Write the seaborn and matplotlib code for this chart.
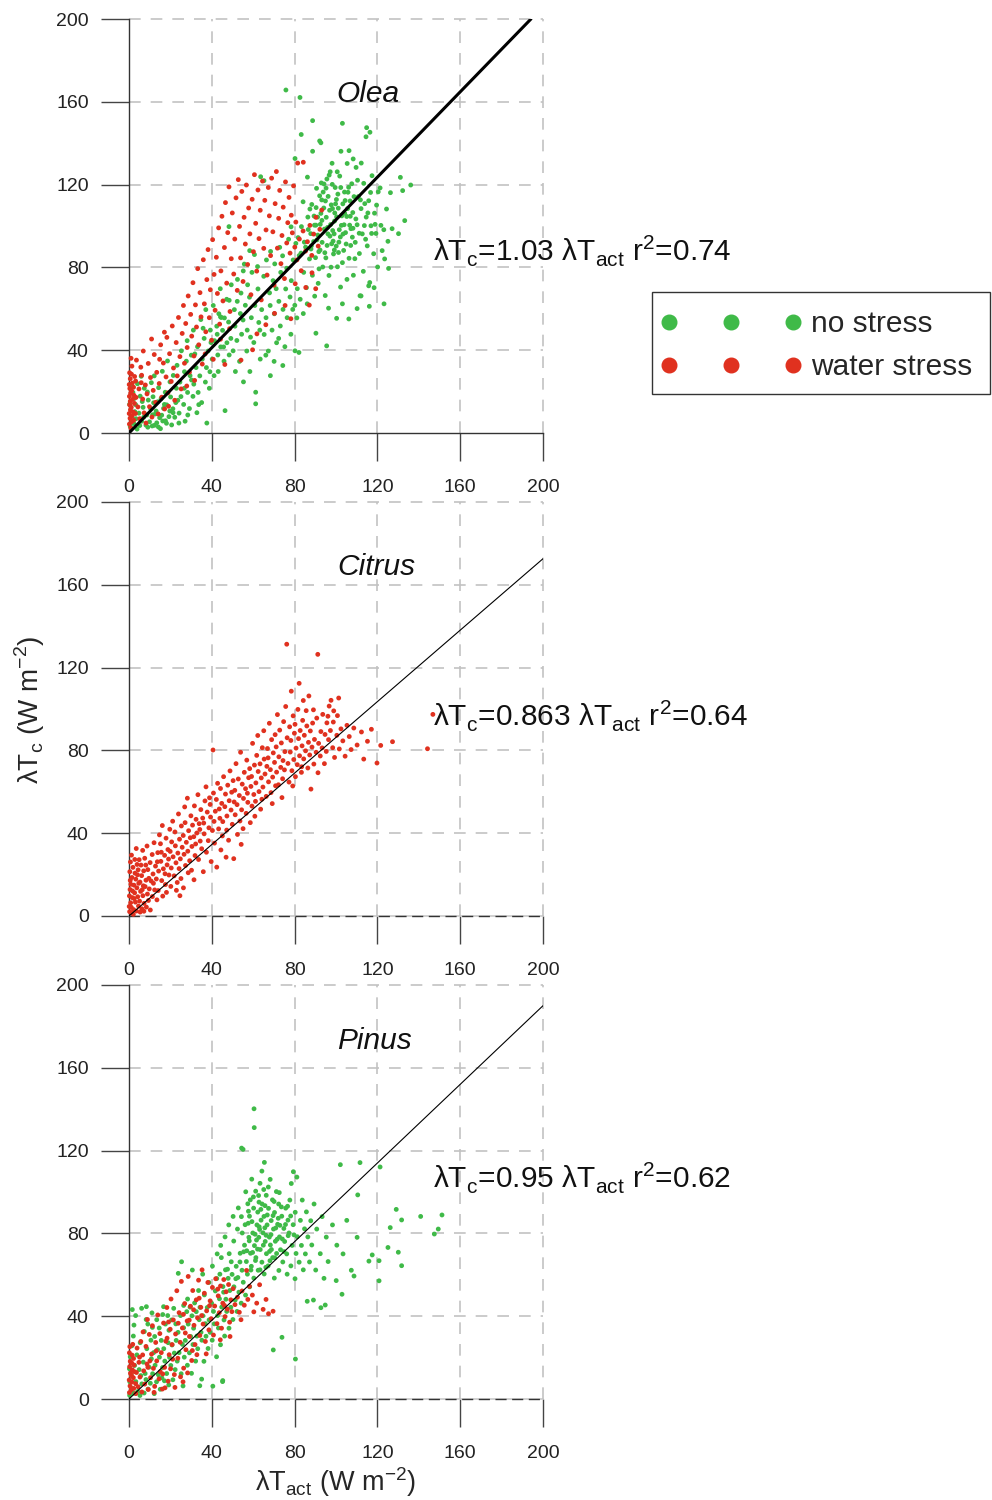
import pandas as pd
import seaborn as sns
import matplotlib.pyplot as plt
from matplotlib.lines import Line2D
from matplotlib.patches import Rectangle

# Points: (lambda*T_act, lambda*T_c) in W m-2

olea_no_stress = [
    (0.6, 3.2), (1.4, 8.1), (2.3, 4.6), (3.2, 13.7), (3.9, 1.9), (4.8, 9.6), (5.4, 17.8), (6.1, 5.7),
    (6.8, 12.4), (7.4, 21.6), (8.2, 3.8), (8.6, 8.7), (9.3, 15.9), (9.9, 5.4), (10.4, 11.8), (10.8, 24.3),
    (1.9, 19.6), (4.1, 23.8), (5.9, 27.4), (0.3, 13.9), (1.2, 22.7), (2.8, 10.3), (5.2, 3.6), (7.1, 7.6),
    (9.1, 2.8), (11.4, 8.8), (12.3, 3.7), (13.1, 10.6), (14.2, 2.9), (16.3, 5.8), (3.4, 6.9), (6.4, 15.2),
    (8.9, 19.8), (11.9, 14.6), (2.6, 16.7), (11.2, 3.4), (11.6, 17.5), (12.7, 9.2), (12.2, 27.6), (13.4, 4.9),
    (13.9, 15.1), (14.3, 21.9), (14.8, 7.4), (15.2, 2.1), (15.5, 16.6), (16.7, 11.9), (16.1, 29.8), (17.6, 5.9),
    (17.5, 19.7), (18.2, 13.6), (18.6, 34.8), (19.3, 7.9), (19.8, 24.7), (20.1, 17.4), (20.6, 3.9), (18.1, 4.7),
    (19.7, 10.6), (17.1, 13.8), (21.3, 9.8), (15.8, 8.6), (21.2, 11.7), (21.4, 27.8), (22.9, 21.6), (22.1, 7.6),
    (23.2, 32.7), (23.6, 15.8), (24.2, 9.6), (24.6, 24.6), (25.3, 39.7), (25.1, 17.6), (26.4, 13.8), (26.8, 29.6),
    (27.1, 5.7), (27.7, 34.7), (28.3, 19.6), (28.1, 44.6), (29.2, 11.8), (29.5, 27.7), (30.1, 37.6), (30.9, 17.7),
    (22.6, 14.7), (24.1, 4.8), (26.7, 21.6), (28.4, 8.7), (30.2, 25.6), (31.3, 23.6), (31.1, 49.7), (32.4, 31.6),
    (32.8, 9.8), (33.1, 41.7), (33.4, 19.6), (34.2, 27.6), (34.7, 54.8), (35.4, 35.7), (35.1, 14.7), (36.3, 45.7),
    (36.9, 24.6), (37.4, 31.6), (37.1, 59.6), (38.2, 39.6), (38.8, 21.6), (39.3, 49.7), (39.1, 29.6), (40.2, 35.7),
    (40.7, 61.6), (37.6, 4.8), (33.7, 13.7), (39.6, 43.7), (35.8, 50.6), (31.8, 38.2), (41.3, 44.6), (41.1, 27.7),
    (42.4, 51.6), (42.9, 37.7), (43.1, 29.7), (43.4, 57.6), (44.3, 41.6), (44.1, 69.7), (45.2, 49.6), (45.9, 34.7),
    (46.1, 55.6), (46.4, 10.8), (47.3, 43.6), (47.2, 64.6), (48.4, 37.7), (48.1, 53.6), (49.2, 45.7), (49.4, 71.6),
    (50.3, 39.7), (50.9, 59.6), (48.3, 99.7), (42.6, 47.7), (45.7, 41.6), (44.6, 55.8), (51.2, 51.6), (51.4, 29.7),
    (52.3, 63.6), (52.1, 44.7), (53.4, 34.6), (53.8, 57.7), (54.1, 67.6), (54.4, 47.7), (55.3, 24.7), (55.1, 54.6),
    (56.2, 61.7), (56.9, 39.6), (57.3, 71.6), (57.1, 49.7), (58.4, 29.7), (58.2, 65.6), (59.1, 55.7), (59.4, 77.6),
    (60.3, 43.7), (60.8, 61.6), (61.2, 19.7), (62.3, 69.6), (63.4, 35.7), (64.1, 59.6), (63.6, 123.8), (65.2, 121.9),
    (61.2, 14.1), (58.7, 46.3), (62.7, 53.4), (55.7, 81.6), (65.3, 47.6), (65.1, 75.7), (66.4, 83.6), (66.2, 55.7),
    (67.3, 39.6), (67.9, 67.7), (68.2, 61.6), (68.4, 87.7), (69.1, 49.7), (69.6, 73.6), (70.2, 57.6), (70.4, 81.7),
    (71.3, 43.6), (71.1, 69.7), (72.4, 63.6), (72.8, 89.7), (73.1, 51.7), (73.3, 77.6), (74.4, 59.7), (74.2, 85.6),
    (75.3, 41.7), (75.7, 69.6), (76.2, 79.6), (76.4, 55.7), (77.1, 93.6), (77.8, 65.7), (78.2, 47.7), (78.4, 73.6),
    (79.3, 83.6), (79.1, 59.7), (80.2, 39.7), (80.6, 91.6), (81.3, 69.7), (81.1, 55.6), (82.2, 85.7), (82.7, 64.6),
    (82.1, 38.9), (83.3, 99.7), (84.4, 77.6), (84.2, 57.7), (68.3, 27.7), (70.1, 34.6), (72.3, 45.7), (66.1, 37.6),
    (63.2, 49.7), (74.3, 32.6), (80.1, 61.7), (78.3, 99.6), (84.1, 111.7), (86.2, 123.6), (85.3, 89.8), (85.7, 70.2),
    (86.4, 104.3), (86.1, 62.4), (87.2, 84.1), (87.8, 96.3), (88.3, 110.4), (88.6, 76.2), (89.2, 92.5), (89.7, 66.1),
    (90.3, 100.4), (90.1, 84.7), (90.6, 118.2), (91.4, 72.3), (91.2, 95.6), (92.7, 106.1), (92.3, 88.4), (93.1, 112.6),
    (93.6, 80.2), (94.4, 98.5), (94.2, 120.3), (94.8, 66.4), (95.3, 104.2), (95.7, 90.6), (96.2, 114.3), (96.6, 76.1),
    (97.4, 100.7), (97.2, 126.2), (98.3, 108.4), (98.8, 86.5), (99.1, 96.2), (99.6, 118.6), (100.3, 104.4), (100.7, 80.3),
    (100.2, 112.8), (101.4, 92.2), (101.8, 124.1), (102.6, 100.3), (102.2, 70.5), (103.3, 110.7), (103.7, 88.2), (104.1, 116.4),
    (104.6, 96.8), (105.4, 130.2), (105.2, 104.6), (106.3, 84.4), (106.8, 112.1), (107.2, 98.7), (107.6, 120.4), (108.4, 76.2),
    (108.1, 106.5), (109.3, 92.1), (109.7, 128.3), (110.2, 100.6), (110.8, 114.2), (111.3, 86.7), (111.6, 66.3), (112.1, 108.4),
    (112.7, 96.2), (113.4, 120.6), (113.2, 78.1), (114.6, 104.3), (115.1, 90.4), (115.8, 112.2), (116.3, 72.7), (116.9, 100.1),
    (117.4, 124.3), (118.2, 86.6), (118.6, 106.2), (119.3, 96.4), (120.1, 80.2), (120.4, 116.5), (121.7, 100.3), (122.3, 88.1),
    (123.2, 62.4), (124.4, 108.2), (125.1, 92.6), (126.3, 116.1), (125.4, 79.5), (130.2, 96.3), (131.1, 123.5), (132.2, 117.1),
    (136.1, 119.8), (133.2, 102.6), (127.1, 98.7), (123.5, 84.1), (116.1, 61.2), (115.8, 71.1), (112.1, 66.2), (106.2, 55.1),
    (95.5, 42.1), (90.3, 48.2), (96.4, 60.3), (103.1, 62.4), (110.2, 60.1), (118.4, 70.2), (100.3, 55.4), (92.1, 114.6),
    (95.2, 118.3), (97.7, 110.2), (99.3, 102.4), (101.1, 108.6), (103.4, 96.1), (105.8, 116.3), (96.1, 96.2), (94.1, 108.7),
    (98.2, 120.1), (100.1, 90.3), (102.3, 118.6), (104.2, 106.1), (106.6, 100.4), (108.7, 114.2), (91.1, 104.3), (93.3, 92.1),
    (89.6, 100.4), (87.4, 108.2), (95.1, 84.6), (97.6, 80.1), (99.2, 88.4), (103.1, 82.3), (105.3, 74.2), (107.1, 90.6),
    (109.1, 84.2), (111.2, 96.5), (113.7, 100.2), (115.4, 106.3), (117.2, 96.4), (119.6, 110.1), (121.3, 118.4), (123.1, 98.2),
    (110.4, 122.1), (112.2, 130.4), (100.6, 126.2), (98.1, 130.3), (96.7, 124.6), (102.4, 136.1), (106.3, 136.4), (75.8, 165.7),
    (82.6, 162.1), (88.7, 150.9), (103.1, 149.6), (114.8, 147.5), (116.4, 145.3), (114.5, 143.1), (83.2, 144.2), (92.1, 141.1),
    (92.7, 140.2), (88.7, 136.1), (108.3, 132.4), (80.2, 132.6), (48.4, 64.1), (55.2, 78.3), (60.6, 86.2), (62.1, 80.4),
    (58.3, 88.1), (52.4, 74.2), (44.2, 56.1), (91.8, 79.3), (94.6, 87.1), (98.6, 92.7), (92.4, 100.8), (101.6, 98.2),
    (89.4, 104.8), (91.7, 87.6), (93.8, 116.4), (95.9, 99.3), (97.9, 91.4), (99.8, 110.7), (101.2, 87.2), (102.8, 104.9),
    (104.9, 91.3), (106.1, 118.7), (107.9, 94.6), (109.6, 103.4), (111.8, 112.6), (93.2, 102.7), (96.9, 107.6), (98.4, 97.8),
    (100.9, 115.4), (103.9, 100.6), (105.6, 108.4), (108.2, 98.9), (90.8, 93.3), (94.9, 112.1), (97.1, 95.1), (99.4, 106.3),
    (102.1, 94.7), (104.4, 112.3), (106.9, 104.7), (88.1, 90.4), (92.9, 120.8), (95.6, 122.7), (86.6, 98.3), (84.7, 92.2),
    (83.1, 86.9), (81.7, 94.4), (87.9, 88.9), (90.4, 108.9), (113.9, 110.8), (116.7, 116.2), (118.9, 100.8), (114.3, 93.6),
]

olea_water_stress = [
    (0.2, 4.3), (0.5, 7.1), (0.1, 9.4), (0.7, 11.2), (0.3, 13.6), (0.6, 15.3), (0.2, 17.7), (0.8, 19.2),
    (0.4, 21.5), (0.1, 23.4), (0.6, 26.2), (0.3, 29.1), (1.2, 5.4), (1.5, 8.3), (1.1, 12.4), (1.7, 16.2),
    (1.3, 20.3), (1.6, 24.1), (1.2, 28.4), (1.4, 32.3), (2.3, 6.2), (2.1, 10.1), (2.6, 14.3), (2.4, 18.2),
    (2.2, 22.1), (2.7, 27.3), (3.1, 9.4), (3.4, 17.2), (3.2, 25.1), (3.6, 35.2), (1.0, 36.1), (0.9, 2.4),
    (4.3, 12.6), (4.8, 21.3), (5.7, 31.8), (5.2, 6.9), (6.6, 16.4), (6.1, 27.9), (7.3, 9.7), (7.9, 23.2),
    (6.9, 39.6), (8.2, 4.8), (8.7, 18.9), (9.3, 33.6), (9.9, 12.7), (10.4, 26.8), (11.1, 7.7), (11.7, 20.6),
    (12.2, 37.9), (12.9, 14.8), (13.4, 29.3), (14.1, 9.2), (14.6, 23.9), (15.3, 42.6), (15.8, 17.3), (16.6, 33.8),
    (17.2, 11.6), (17.9, 27.1), (18.3, 46.2), (18.8, 19.4), (19.6, 38.3), (20.4, 24.9), (20.9, 51.7), (21.5, 31.4),
    (22.1, 15.8), (22.8, 43.7), (23.3, 27.6), (23.9, 55.8), (24.6, 36.9), (25.2, 21.3), (25.7, 48.1), (5.9, 24.3),
    (14.8, 35.6), (19.1, 12.9), (10.9, 45.4), (17.1, 48.7), (26.3, 61.6), (26.8, 33.7), (27.4, 52.9), (28.1, 41.3),
    (28.6, 66.2), (29.2, 29.4), (29.8, 57.3), (30.3, 46.8), (30.9, 72.6), (31.4, 37.2), (32.1, 61.9), (32.6, 51.2),
    (33.2, 79.4), (33.7, 42.6), (34.3, 67.8), (34.8, 56.1), (35.4, 33.3), (35.9, 83.7), (36.4, 62.4), (37.1, 48.9),
    (37.6, 74.1), (38.2, 88.6), (38.8, 55.7), (39.3, 69.2), (39.9, 44.8), (40.4, 93.4), (41.1, 76.6), (41.6, 59.3),
    (42.2, 84.9), (42.7, 67.4), (43.3, 99.1), (43.8, 52.6), (44.4, 78.3), (44.9, 104.7), (45.4, 63.8), (27.9, 22.7),
    (31.7, 25.4), (36.8, 38.2), (40.7, 35.6), (44.2, 45.3), (46.1, 89.6), (46.6, 111.3), (47.2, 72.4), (47.7, 96.8),
    (48.3, 118.9), (48.8, 58.7), (49.4, 84.2), (49.9, 106.3), (50.6, 76.8), (51.1, 93.7), (51.7, 113.6), (52.3, 68.9),
    (52.8, 122.4), (53.4, 99.8), (53.9, 84.6), (54.5, 116.7), (55.1, 73.2), (55.6, 104.2), (56.2, 91.3), (56.7, 119.8),
    (57.3, 81.4), (57.8, 108.7), (58.4, 96.2), (58.9, 66.8), (59.5, 112.9), (60.1, 87.6), (60.6, 124.8), (61.2, 101.3),
    (61.7, 78.2), (62.3, 117.4), (62.8, 93.9), (63.4, 107.6), (63.9, 64.3), (64.5, 121.7), (65.1, 89.2), (54.1, 35.2),
    (61.8, 47.9), (46.3, 33.1), (48.6, 50.4), (59.7, 40.2), (65.6, 112.4), (66.2, 98.1), (66.7, 76.3), (67.3, 118.6),
    (67.8, 104.9), (68.4, 85.7), (68.9, 123.1), (69.5, 97.2), (70.1, 71.4), (70.6, 110.8), (71.2, 126.3), (71.7, 89.3),
    (72.3, 103.7), (72.8, 117.2), (73.4, 81.8), (73.9, 95.4), (74.5, 109.1), (75.1, 74.6), (75.6, 121.3), (76.2, 91.8),
    (76.7, 101.6), (77.3, 113.8), (77.8, 86.9), (78.4, 105.2), (78.9, 96.7), (79.5, 119.4), (80.1, 89.8), (80.6, 101.9),
    (81.5, 130.4), (84.2, 130.8), (81.1, 83.6), (82.3, 93.7), (83.2, 78.4), (84.1, 97.6), (85.3, 87.9), (86.2, 92.4),
    (87.4, 100.3), (88.3, 85.8), (89.2, 96.1), (90.3, 104.2), (91.4, 90.3), (92.2, 98.4), (93.1, 107.7), (85.4, 70.3),
    (90.2, 69.7), (87.1, 61.8), (80.3, 72.1), (75.4, 61.6), (70.3, 57.8), (66.1, 52.3), (78.2, 55.2), (88.4, 77.4),
]

citrus_water_stress = [
    (0.3, 2.1), (0.8, 6.4), (0.2, 9.7), (1.1, 4.2), (0.5, 12.8), (1.6, 8.9), (0.9, 15.3), (2.2, 3.1),
    (1.4, 18.6), (0.4, 21.4), (2.7, 11.2), (3.1, 6.7), (2.4, 14.9), (1.9, 23.5), (3.6, 2.4), (0.7, 26.1),
    (3.3, 17.8), (4.2, 9.3), (2.9, 20.7), (4.6, 4.8), (3.8, 13.6), (5.1, 7.2), (4.4, 22.3), (5.6, 11.9),
    (1.2, 29.4), (5.3, 16.4), (6.2, 3.5), (4.9, 27.2), (6.7, 9.8), (6.1, 19.5), (7.3, 6.1), (5.8, 24.6),
    (7.8, 14.2), (7.1, 21.8), (8.4, 4.3), (6.6, 31.7), (8.9, 10.6), (8.2, 17.3), (9.4, 7.5), (7.6, 27.9),
    (9.8, 13.1), (9.1, 22.4), (10.3, 2.9), (8.7, 33.8), (10.7, 16.9), (10.2, 25.8), (3.5, 32.6), (2.1, 0.8),
    (11.3, 9.4), (6.9, 14.6), (0.6, 17.2), (1.7, 12.1), (2.5, 8.4), (3.9, 24.9), (4.7, 15.8), (5.4, 1.9),
    (0.1, 4.6), (1.3, 1.4), (2.8, 27.3), (4.1, 19.9), (6.4, 12.7), (7.2, 2.3), (8.1, 24.6), (9.6, 18.2),
    (11.6, 20.3), (11.2, 29.7), (12.4, 12.6), (12.1, 35.4), (12.8, 24.1), (13.5, 7.8), (13.2, 17.9), (13.9, 30.6),
    (14.3, 21.7), (14.7, 39.2), (14.1, 12.3), (15.4, 26.4), (15.8, 17.1), (15.2, 34.9), (16.3, 9.6), (16.6, 22.8),
    (16.1, 43.7), (17.2, 29.3), (17.6, 15.2), (17.9, 37.6), (18.4, 24.7), (18.1, 11.4), (18.8, 32.1), (19.3, 19.8),
    (19.7, 41.9), (19.1, 27.5), (20.2, 14.3), (20.6, 35.8), (20.4, 23.2), (13.7, 26.2), (17.4, 20.4), (15.6, 30.8),
    (11.8, 15.8), (19.9, 31.2), (21.3, 28.6), (21.1, 45.8), (21.8, 19.4), (22.4, 33.9), (22.7, 25.7), (22.2, 40.6),
    (23.3, 16.2), (23.6, 30.4), (23.9, 49.3), (24.4, 37.1), (24.2, 22.9), (24.8, 27.6), (25.3, 43.5), (25.7, 33.2),
    (25.1, 18.1), (26.2, 38.9), (26.6, 29.8), (26.9, 52.7), (27.3, 24.4), (27.7, 35.6), (27.1, 45.1), (28.4, 31.3),
    (28.8, 41.2), (28.2, 56.9), (29.3, 26.7), (29.6, 37.8), (29.9, 48.4), (30.4, 33.6), (30.2, 22.1), (30.7, 43.9),
    (31.3, 38.3), (31.6, 53.2), (31.9, 29.2), (32.4, 46.7), (32.2, 34.8), (32.8, 40.1), (33.3, 58.6), (33.6, 27.3),
    (33.9, 44.6), (34.4, 36.2), (34.7, 51.4), (34.2, 41.8), (35.1, 32.5), (35.6, 47.3), (35.9, 21.4), (26.3, 13.6),
    (24.6, 9.8), (31.4, 17.5), (28.6, 20.9), (22.9, 12.4), (36.3, 39.7), (36.7, 55.6), (36.1, 44.9), (37.4, 30.8),
    (37.8, 50.2), (37.2, 62.4), (38.6, 42.6), (38.3, 36.4), (38.9, 57.1), (39.4, 47.8), (39.7, 26.3), (39.2, 53.9),
    (40.3, 41.3), (40.6, 80.2), (40.8, 59.4), (41.3, 35.2), (41.7, 50.6), (41.1, 45.7), (42.4, 23.6), (42.2, 56.3),
    (42.8, 64.1), (43.3, 42.1), (43.6, 51.7), (43.9, 47.2), (44.4, 31.9), (44.2, 61.6), (44.8, 54.4), (45.3, 45.6),
    (45.7, 67.3), (45.1, 38.7), (46.3, 52.8), (46.6, 58.9), (46.9, 28.4), (47.3, 48.3), (47.7, 63.2), (47.2, 41.5),
    (48.4, 55.7), (48.8, 70.1), (48.1, 36.6), (49.3, 51.2), (49.6, 59.8), (49.9, 44.3), (50.3, 65.4), (50.6, 27.7),
    (50.8, 55.1), (51.3, 48.9), (51.7, 73.6), (51.1, 60.7), (52.4, 39.4), (52.2, 53.8), (52.8, 66.2), (53.3, 58.2),
    (53.6, 45.9), (53.9, 79.1), (54.4, 51.3), (54.7, 63.7), (54.2, 34.6), (55.3, 56.8), (55.7, 69.4), (55.1, 42.2),
    (56.3, 61.5), (56.6, 49.6), (56.9, 75.3), (57.4, 54.9), (57.8, 66.8), (57.2, 59.3), (58.6, 45.1), (58.3, 71.2),
    (58.9, 62.6), (59.4, 53.1), (59.7, 83.4), (59.2, 67.4), (60.3, 58.7), (60.6, 72.9), (60.8, 48.2), (61.3, 64.3),
    (61.7, 77.6), (61.1, 55.4), (62.4, 69.8), (62.2, 87.2), (62.8, 60.1), (63.3, 73.5), (63.6, 51.6), (63.9, 66.7),
    (64.4, 81.3), (64.7, 62.3), (64.2, 56.4), (65.3, 75.8), (65.7, 68.6), (65.1, 89.5), (66.3, 57.8), (66.6, 72.3),
    (66.9, 80.9), (67.4, 64.8), (67.8, 93.1), (67.2, 76.4), (68.6, 59.6), (68.3, 70.7), (68.9, 85.2), (69.4, 67.1),
    (69.7, 78.8), (69.2, 54.3), (70.3, 74.2), (70.6, 87.6), (70.8, 62.9), (71.3, 69.5), (71.7, 97.3), (71.1, 81.7),
    (72.4, 76.9), (72.2, 63.4), (72.8, 89.8), (73.3, 71.8), (73.6, 83.6), (73.9, 57.2), (74.4, 75.1), (74.7, 93.9),
    (74.2, 66.3), (75.3, 79.4), (75.7, 101.2), (75.1, 70.6), (76.4, 86.1), (76.2, 131.3), (76.8, 73.7), (77.3, 64.7),
    (77.6, 91.4), (77.9, 79.2), (78.4, 108.6), (78.7, 70.2), (78.2, 84.8), (79.3, 96.7), (79.6, 75.6), (79.9, 88.3),
    (80.4, 67.3), (80.7, 81.1), (80.2, 92.6), (81.3, 73.1), (81.6, 99.8), (81.9, 85.7), (82.4, 77.4), (82.7, 89.6),
    (82.2, 112.4), (83.3, 69.4), (83.6, 82.2), (83.9, 94.5), (84.4, 75.9), (84.7, 87.3), (84.2, 104.1), (85.3, 79.8),
    (85.6, 99.2), (85.9, 91.8), (86.4, 71.5), (86.7, 83.9), (87.3, 77.8), (87.6, 89.4), (87.9, 61.3), (88.4, 81.6),
    (88.7, 93.2), (89.3, 73.4), (89.6, 85.3), (90.4, 79.1), (90.7, 95.6), (91.3, 69.2), (91.6, 83.4), (91.2, 126.4),
    (92.4, 77.3), (92.7, 89.1), (93.3, 81.2), (93.6, 97.4), (94.4, 73.6), (94.7, 87.7), (95.3, 79.5), (95.6, 93.3),
    (96.4, 85.2), (96.7, 101.4), (97.3, 89.6), (97.6, 104.2), (98.4, 81.3), (98.7, 93.7), (99.3, 76.6), (100.4, 87.3),
    (100.7, 96.8), (101.3, 105.3), (101.6, 80.7), (102.4, 90.4), (103.3, 84.6), (104.4, 77.2), (105.3, 92.1), (106.4, 86.7),
    (107.3, 80.4), (108.6, 90.8), (110.2, 82.6), (112.3, 88.9), (113.4, 75.8), (115.2, 84.4), (117.1, 90.2), (119.8, 73.9),
    (121.6, 82.4), (127.3, 84.2), (144.2, 80.8), (146.8, 97.4), (96.1, 96.5), (89.1, 99.6), (83.4, 72.1), (79.1, 62.8),
    (86.9, 106.3), (98.9, 99.1),
]

pinus_no_stress = [
    (0.3, 1.8), (0.4, 8.3), (0.2, 14.6), (0.6, 20.4), (1.2, 5.2), (1.1, 11.4), (1.4, 25.7), (2.2, 2.8),
    (2.7, 16.2), (2.1, 30.4), (2.4, 35.7), (3.3, 8.4), (3.8, 21.3), (4.2, 3.6), (4.9, 14.2), (5.3, 1.7),
    (5.7, 11.3), (5.4, 27.2), (6.2, 7.3), (6.9, 17.8), (6.1, 43.8), (7.3, 2.9), (7.8, 12.3), (7.4, 32.6),
    (8.2, 9.4), (8.6, 24.3), (8.4, 44.6), (9.2, 4.8), (9.7, 15.4), (9.1, 36.2), (10.3, 7.6), (10.8, 19.4),
    (10.6, 28.4), (11.1, 41.6), (11.4, 12.2), (11.9, 22.4), (12.2, 2.6), (12.6, 16.3), (12.4, 30.2), (13.3, 8.3),
    (13.8, 23.8), (13.4, 38.3), (14.2, 11.7), (14.7, 20.2), (14.6, 34.3), (15.1, 4.7), (15.9, 10.2), (15.6, 28.3),
    (16.2, 15.2), (16.8, 24.3), (16.7, 44.6), (17.1, 8.8), (17.3, 18.3), (17.6, 36.2), (18.2, 12.3), (18.9, 27.2),
    (18.7, 40.3), (19.2, 6.8), (19.6, 20.1), (19.3, 33.2), (20.2, 16.2), (20.8, 26.1), (20.6, 38.2), (21.2, 9.3),
    (21.9, 22.2), (21.6, 43.8), (22.3, 14.2), (22.8, 28.3), (22.6, 36.3), (23.3, 18.3), (23.7, 32.2), (23.8, 60.7),
    (24.2, 22.4), (24.9, 40.3), (25.4, 66.3), (25.2, 12.2), (25.8, 26.4), (26.1, 6.3), (26.7, 20.2), (26.4, 34.4),
    (27.2, 28.3), (27.9, 42.2), (28.2, 16.3), (28.6, 36.2), (28.3, 48.3), (29.2, 22.3), (29.8, 30.2), (29.5, 44.4),
    (30.2, 12.4), (30.9, 26.3), (30.4, 40.2), (30.6, 62.3), (31.2, 34.2), (31.7, 46.4), (32.2, 18.3), (32.8, 30.4),
    (32.5, 42.2), (33.2, 24.3), (33.9, 38.3), (33.6, 52.4), (34.2, 6.4), (34.8, 32.2), (34.3, 44.3), (35.2, 28.4),
    (35.7, 40.2), (35.6, 60.3), (36.2, 18.2), (36.9, 36.4), (36.4, 50.3), (37.2, 30.3), (37.8, 44.2), (38.2, 24.4),
    (38.7, 38.2), (38.6, 56.3), (39.2, 32.2), (39.9, 46.3), (40.5, 6.2), (40.2, 28.4), (40.8, 42.3), (40.3, 64.2),
    (41.2, 36.3), (41.7, 52.2), (42.3, 20.4), (42.8, 40.3), (42.4, 58.2), (43.2, 34.3), (43.7, 48.4), (44.2, 26.2),
    (44.8, 44.4), (44.6, 68.3), (45.2, 8.4), (45.9, 38.2), (45.4, 54.3), (46.2, 30.4), (46.8, 48.2), (46.6, 62.4),
    (47.2, 42.3), (47.9, 58.3), (48.3, 34.2), (48.7, 52.4), (48.4, 70.2), (49.2, 44.3), (49.8, 60.2), (50.2, 38.4),
    (50.7, 54.2), (50.6, 76.3), (51.3, 47.8), (51.8, 64.1), (52.2, 42.3), (52.6, 58.7), (52.4, 82.1), (53.1, 51.6),
    (53.7, 70.4), (54.2, 46.3), (54.6, 62.2), (54.3, 88.1), (55.2, 56.4), (55.8, 74.3), (55.1, 120.6), (54.4, 121.2),
    (56.3, 50.2), (56.7, 66.4), (56.1, 84.2), (57.2, 60.3), (57.9, 78.1), (57.4, 94.3), (58.3, 54.2), (58.7, 70.4),
    (58.2, 88.3), (59.1, 64.1), (59.8, 80.2), (60.3, 58.4), (60.6, 74.1), (60.2, 92.2), (60.5, 131.1), (60.4, 140.2),
    (61.3, 68.3), (61.8, 84.1), (61.2, 100.4), (62.4, 62.2), (62.7, 78.1), (62.2, 90.3), (63.4, 72.2), (63.8, 86.4),
    (63.3, 104.2), (64.2, 66.1), (64.7, 80.3), (64.3, 94.2), (65.3, 60.4), (65.8, 76.1), (65.2, 88.2), (65.4, 114.3),
    (66.4, 70.2), (66.7, 84.1), (66.3, 98.4), (67.2, 64.3), (67.8, 78.2), (67.4, 92.1), (68.3, 74.4), (68.7, 86.2),
    (68.2, 106.1), (69.4, 68.3), (69.8, 82.1), (69.3, 96.2), (70.2, 58.4), (70.7, 76.2), (70.3, 90.1), (69.7, 23.7),
    (71.3, 70.3), (71.8, 84.4), (71.2, 100.2), (72.4, 62.1), (72.7, 78.3), (72.3, 94.2), (73.2, 72.1), (73.8, 88.3),
    (74.3, 66.2), (74.8, 82.4), (73.9, 29.8), (75.2, 76.1), (75.7, 92.2), (76.4, 60.3), (76.2, 70.1), (76.8, 86.4),
    (77.3, 80.2), (77.7, 96.1), (78.2, 64.3), (78.8, 74.2), (78.4, 104.1), (79.3, 84.2), (79.4, 109.8), (80.2, 58.1),
    (80.7, 70.3), (80.3, 90.2), (80.4, 19.3), (81.3, 78.4), (81.1, 107.2), (82.2, 66.1), (82.8, 86.3), (83.3, 74.2),
    (83.7, 96.1), (84.2, 62.4), (84.8, 82.2), (85.2, 70.1), (85.7, 90.4), (86.1, 47.2), (86.4, 78.3), (87.2, 66.2),
    (87.8, 86.1), (88.3, 74.4), (89.1, 47.8), (89.4, 94.2), (90.2, 62.3), (90.7, 82.1), (92.7, 44.1), (92.4, 70.2),
    (93.3, 88.1), (94.2, 58.3), (94.8, 45.4), (95.3, 78.2), (96.2, 66.4), (98.3, 84.1), (100.1, 57.2), (100.4, 74.3),
    (102.1, 113.2), (102.9, 50.6), (103.4, 70.1), (105.2, 86.3), (107.4, 62.2), (108.7, 59.4), (110.2, 78.1), (110.5, 98.6),
    (111.6, 114.2), (115.9, 66.6), (117.5, 69.6), (120.8, 57.1), (120.8, 66.8), (121.3, 112.1), (125.1, 73.2), (126.2, 82.8),
    (129.1, 91.6), (130.1, 70.9), (131.7, 64.4), (131.7, 86.5), (140.9, 88.2), (147.5, 79.7), (149.4, 82.1), (151.2, 88.9),
    (58.6, 96.2), (56.4, 100.1), (52.8, 92.3), (50.3, 88.2), (48.2, 84.1), (46.4, 78.3), (44.3, 74.2), (42.6, 70.1),
    (59.3, 106.2), (64.2, 110.1), (67.3, 102.4), (54.7, 80.2), (62.6, 98.3), (61.6, 76.8), (63.1, 81.9), (66.2, 79.1),
    (68.8, 72.2), (70.9, 82.6), (72.1, 87.3), (59.7, 70.8), (57.6, 84.9), (65.7, 93.4), (74.1, 77.3), (76.6, 93.1),
    (35.1, 9.6), (45.3, 8.9), (26.4, 45.2), (11.3, 34.6), (16.3, 40.8), (8.3, 38.4), (3.2, 40.3), (1.6, 43.2),
    (56.9, 71.6), (58.1, 76.4), (59.4, 85.7), (60.9, 79.6), (62.1, 72.4), (62.9, 83.2), (63.7, 91.6), (64.9, 74.3),
    (65.6, 82.7), (66.8, 88.9), (67.9, 71.3), (68.6, 79.4), (69.6, 88.6), (70.4, 68.2), (71.6, 77.2), (72.9, 83.9),
    (73.6, 92.8), (74.9, 71.2), (75.6, 84.3), (76.9, 78.9), (78.1, 88.4), (79.7, 79.3), (58.9, 62.3), (61.1, 66.9),
    (63.3, 62.4), (66.1, 63.6), (68.1, 66.8), (57.7, 90.7), (60.1, 97.6), (62.8, 95.1), (65.1, 101.2), (70.1, 95.4),
    (72.6, 99.7), (53.6, 66.2), (55.4, 71.1), (51.6, 58.1), (49.4, 66.3), (47.6, 62.7), (45.7, 51.6), (43.9, 60.3),
]

pinus_water_stress = [
    (0.2, 3.1), (0.5, 6.3), (0.1, 9.2), (0.7, 12.4), (0.3, 15.6), (0.6, 18.2), (0.2, 22.3), (1.1, 4.4),
    (1.4, 8.2), (1.2, 11.3), (1.6, 14.1), (1.3, 17.4), (1.5, 21.2), (2.3, 5.1), (2.1, 10.3), (2.6, 13.2),
    (2.4, 16.4), (2.2, 19.6), (0.4, 25.3), (1.8, 26.4), (3.2, 7.4), (3.6, 12.8), (3.9, 24.6), (4.4, 5.9),
    (4.8, 17.7), (5.3, 10.6), (5.7, 27.8), (6.2, 3.4), (6.6, 21.3), (7.1, 13.6), (7.6, 7.2), (8.2, 25.4),
    (8.7, 16.9), (9.3, 4.6), (9.8, 31.2), (10.4, 10.3), (10.9, 21.7), (11.3, 35.4), (11.8, 14.8), (12.4, 6.1),
    (12.9, 27.3), (13.4, 18.4), (13.9, 40.6), (14.5, 9.7), (14.9, 31.6), (15.6, 22.4), (16.1, 4.8), (16.7, 36.7),
    (17.2, 15.3), (17.8, 27.9), (18.3, 44.2), (18.9, 8.6), (19.4, 21.4), (19.9, 33.7), (20.3, 48.3), (8.9, 38.4),
    (6.8, 32.4), (12.1, 3.2), (15.1, 13.2), (9.1, 15.3), (17.4, 5.4), (20.1, 14.6), (20.8, 26.3), (21.4, 38.2),
    (21.9, 11.8), (22.5, 31.4), (23.1, 52.3), (23.6, 19.7), (24.2, 41.7), (24.7, 27.4), (25.3, 56.8), (25.8, 34.3),
    (26.4, 14.9), (26.9, 46.1), (27.5, 23.8), (28.1, 37.7), (28.6, 59.2), (29.2, 30.2), (29.7, 44.8), (30.3, 18.6),
    (30.8, 52.4), (31.4, 35.6), (31.9, 26.3), (32.5, 47.9), (33.1, 39.2), (33.6, 57.4), (34.2, 30.7), (34.7, 44.3),
    (35.3, 62.4), (35.8, 36.2), (36.4, 51.1), (36.9, 27.8), (37.5, 42.6), (38.1, 56.3), (38.6, 33.4), (39.2, 47.4),
    (39.7, 38.8), (40.3, 53.9), (40.8, 30.9), (22.2, 5.6), (26.1, 8.3), (28.3, 12.6), (32.8, 21.4), (37.3, 21.8),
    (41.4, 44.9), (41.9, 58.1), (42.5, 36.4), (43.1, 49.8), (43.6, 41.7), (44.2, 54.6), (44.7, 34.2), (45.3, 46.3),
    (45.8, 57.7), (46.4, 39.8), (46.9, 51.8), (47.5, 43.4), (48.1, 55.3), (48.6, 37.1), (49.2, 47.9), (49.7, 42.2),
    (50.3, 53.3), (51.2, 45.6), (52.4, 49.2), (53.3, 41.9), (54.6, 52.2), (55.7, 45.3), (56.8, 62.1), (57.4, 48.1),
    (58.2, 54.4), (59.6, 50.2), (60.3, 42.1), (61.7, 46.3), (63.1, 55.2), (64.8, 43.3), (66.2, 48.1), (67.4, 41.2),
    (69.6, 42.4), (54.1, 38.3), (48.8, 30.2), (44.1, 28.6), (13.1, 23.2), (18.4, 29.4), (23.8, 36.6), (29.1, 38.1),
    (33.9, 48.7), (27.2, 31.9), (21.1, 19.2), (16.3, 12.1), (10.1, 18.4), (5.1, 20.2), (3.3, 2.6), (24.9, 10.7),
    (30.6, 23.4), (35.1, 40.3), (38.9, 45.1), (42.9, 53.1), (46.1, 45.2), (31.2, 43.1), (26.3, 40.9), (19.1, 37.2),
]

species = ["Olea", "Citrus", "Pinus"]
slopes = [1.03, 0.863, 0.95]
slope_labels = ["1.03", "0.863", "0.95"]
r2 = ["0.74", "0.64", "0.62"]
line_widths = [2.2, 0.8, 0.8]
ticks = [0, 40, 80, 120, 160, 200]

panel_data = [
    [("no stress", olea_no_stress), ("water stress", olea_water_stress)],
    [("water stress", citrus_water_stress)],
    [("no stress", pinus_no_stress), ("water stress", pinus_water_stress)],
]

colors = {"no stress": "#3fba48", "water stress": "#e0311f"}

sns.set_theme(style="white")
plt.rcParams["font.family"] = ["Liberation Sans", "DejaVu Sans"]
plt.rcParams["mathtext.fontset"] = "custom"
plt.rcParams["mathtext.rm"] = "Liberation Sans"

fig = plt.figure(figsize=(9.92, 15), dpi=100)

# axes boxes in figure fractions (0..200 maps to 414 px)
bottoms = [1 - 433 / 1500, 1 - 916 / 1500, 1 - 1399 / 1500]
title_pos = [(115.5, 164), (119.3, 168.6), (118.4, 173)]
note_y = [88, 97, 107]

for i, name in enumerate(species):
    ax = fig.add_axes([129 / 992, bottoms[i], 414 / 992, 414 / 1500])

    frames = []
    for label, pts in panel_data[i]:
        frames.append(pd.DataFrame(pts, columns=["x", "y"]).assign(stress=label))
    df = pd.concat(frames, ignore_index=True)

    sns.scatterplot(
        data=df, x="x", y="y", hue="stress", palette=colors,
        s=12, linewidth=0, legend=False, ax=ax, clip_on=False, zorder=3
    )

    # fitted line through origin
    x_end = min(200, 200 / slopes[i])
    ax.plot([0, x_end], [0, slopes[i] * x_end], color="black",
            linewidth=line_widths[i], zorder=4)

    ax.set_xlim(0, 200)
    ax.set_ylim(0, 200)
    ax.set_xticks(ticks)
    ax.set_yticks(ticks)
    ax.set_xlabel("")
    ax.set_ylabel("")

    for s in ["top", "right"]:
        ax.spines[s].set_visible(False)
    for s in ["left", "bottom"]:
        ax.spines[s].set_color("#333333")
        ax.spines[s].set_linewidth(1.0)

    # lower panels: x axis drawn as black dashes over the grey grid line
    if i > 0:
        ax.spines["bottom"].set_linestyle((0, (7, 5)))
        ax.axhline(0, color="#c8c8c8", linewidth=1.2, zorder=1, clip_on=False)

    ax.tick_params(axis="both", bottom=True, left=True, direction="out",
                   length=20, width=1, color="#444444",
                   labelsize=14, labelcolor="#222222")
    ax.tick_params(axis="x", pad=13)
    ax.tick_params(axis="y", pad=9)

    for t in ticks[1:]:
        ax.axvline(t, color="#c2c2c2", linewidth=1.2, dashes=(7, 6), zorder=1, clip_on=False)
        ax.axhline(t, color="#c2c2c2", linewidth=1.2, dashes=(7, 6), zorder=1, clip_on=False)

    ax.text(title_pos[i][0], title_pos[i][1], name, style="italic", fontsize=21.5,
            ha="center", va="center", color="#111111")
    ax.text(147, note_y[i],
            r"λT$_\mathregular{c}$=" + slope_labels[i]
            + r" λT$_\mathregular{act}$ r$^\mathregular{2}$=" + r2[i],
            fontsize=21.5, ha="left", va="center", color="#111111")

# legend: entries without frame, box drawn separately
handles = [
    Line2D([], [], marker="o", linestyle="none", color=colors["no stress"], markersize=10.5),
    Line2D([], [], marker="o", linestyle="none", color=colors["water stress"], markersize=10.5),
]
fig.legend(
    handles, ["no stress", "water stress"], numpoints=3,
    loc="center left", bbox_to_anchor=(647 / 992, 1 - 345.5 / 1500),
    fontsize=21.5, frameon=False,
    handlelength=4.75, handletextpad=0.3, labelspacing=0.5,
    borderpad=0.45, borderaxespad=0
)
fig.patches.append(Rectangle(
    (652 / 992, 1 - 394 / 1500), 338 / 992, 102 / 1500,
    transform=fig.transFigure, fill=False, edgecolor="#333333", linewidth=1.0
))

fig.text(30 / 992, 1 - 710 / 1500,
         r"λT$_\mathregular{c}$ (W m$^\mathregular{-2}$)",
         rotation=90, fontsize=20, ha="center", va="center")
fig.text(335 / 992, 1 - 1482 / 1500,
         r"λT$_\mathregular{act}$ (W m$^\mathregular{-2}$)",
         fontsize=19.5, ha="center", va="center")

plt.savefig("out.png", dpi=100)
